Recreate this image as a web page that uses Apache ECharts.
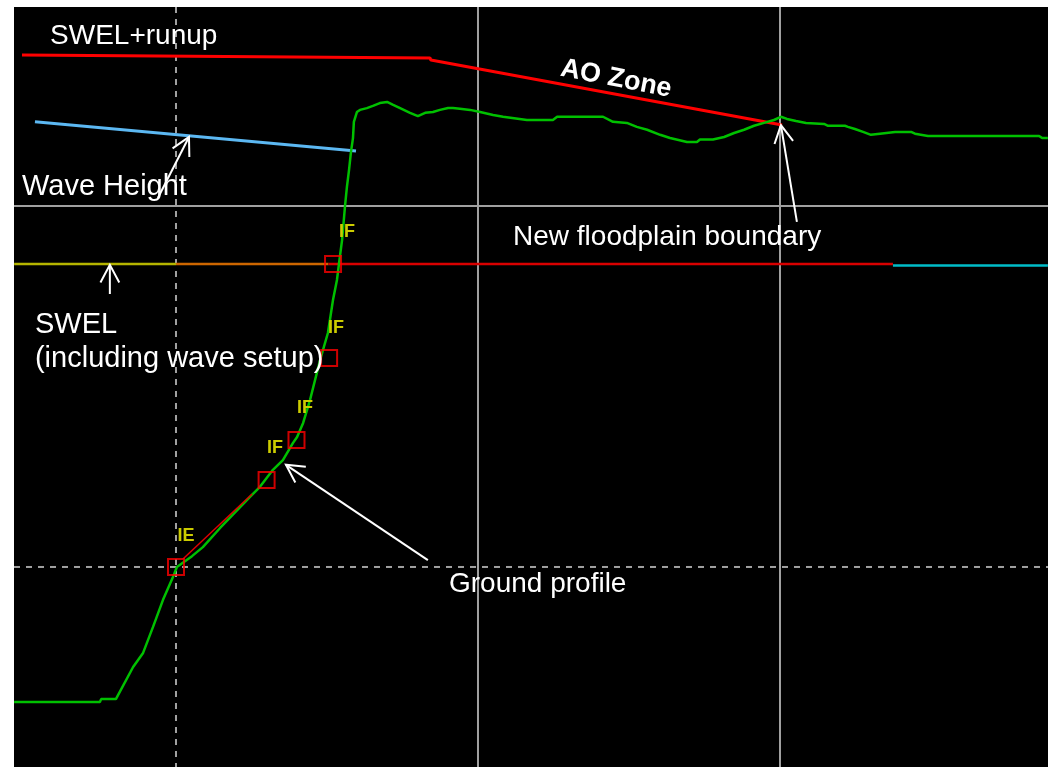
<!DOCTYPE html>
<html>
<head>
<meta charset="utf-8">
<script src="https://cdn.jsdelivr.net/npm/echarts@6/dist/echarts.min.js"></script>
<style>
html, body { margin: 0; padding: 0; background: #fff; }
#main { width: 1048px; height: 767px; }
</style>
</head>
<body>
<div id="main"></div>
<script>
// station (ft) / elevation (ft)
const groundProfile = [
    [46.4, -3.74], [74.8, -3.74], [75.2, -3.66], [80.1, -3.66], [85.8, -2.77], [89.1, -2.38],
    [92.4, -1.66], [95.7, -0.91], [99.0, -0.28], [100.3, 0], [105.3, 0.30], [108.9, 0.55],
    [114.6, 1.08], [124.5, 1.94], [127.8, 2.22], [132.1, 2.69], [135.4, 2.96], [138.7, 3.43],
    [140.1, 3.60], [142.1, 3.99], [144.4, 4.63], [147.7, 5.73], [150.3, 6.48], [152.0, 7.40],
    [153.3, 7.95], [154.0, 8.42], [155.0, 9.06], [156.0, 10.03], [156.6, 10.53], [157.3, 11.00],
    [157.9, 11.47], [158.6, 11.88], [158.9, 12.33], [159.9, 12.60], [160.9, 12.66], [163.2, 12.71],
    [165.2, 12.77], [167.5, 12.85], [169.9, 12.88], [171.9, 12.80], [174.2, 12.71], [177.5, 12.58],
    [180.1, 12.49], [182.5, 12.58], [185.1, 12.60], [187.4, 12.66], [190.1, 12.71], [191.7, 12.71],
    [194.0, 12.69], [197.4, 12.66], [200.7, 12.60], [205.0, 12.52], [208.3, 12.47], [216.2, 12.38],
    [224.8, 12.38], [226.2, 12.47], [241.4, 12.47], [244.7, 12.33], [249.3, 12.30], [252.6, 12.19],
    [256.0, 12.11], [260.3, 11.97], [263.6, 11.88], [269.2, 11.77], [272.5, 11.77], [273.5, 11.84],
    [277.8, 11.84], [281.5, 11.91], [284.8, 12.02], [288.1, 12.11], [291.4, 12.22], [294.7, 12.30],
    [298.0, 12.38], [300.3, 12.47], [302.3, 12.41], [305.3, 12.35], [308.6, 12.30], [314.6, 12.27],
    [315.9, 12.22], [321.5, 12.22], [322.5, 12.19], [324.8, 12.13], [327.5, 12.05], [330.1, 11.97],
    [333.1, 12.00], [338.1, 12.05], [343.4, 12.05], [344.7, 12.00], [349.0, 11.94], [385.8, 11.94],
    [386.8, 11.88], [388.7, 11.88]
];
const runupX = [49.0, 184.1, 184.4, 300.7];
const runupY = [14.18, 14.10, 14.04, 12.24];
const waveX = [53.3, 159.6];
const waveY = [12.33, 11.52];
const transectX = [102.3, 125.2];
const transectY = [0.22, 2.02];
const swelStart = [46.4, 100.0, 150.5, 337.4];
const swelEnd = [100.0, 150.5, 337.4, 388.7];
const swelLevel = [8.39, 8.39, 8.39, 8.35];
const pointX = [100.0, 130.0, 139.9, 150.7, 152.0];
const pointY = [0, 2.41, 3.52, 5.79, 8.39];
const tagText = ['IE', 'IF', 'IF', 'IF', 'IF'];
const tagX = [103.3, 132.8, 142.7, 153.0, 156.6];
const tagY = [0.86, 3.30, 4.40, 6.62, 9.28];
const gridX = [100, 200, 300];
const gridY = [0, 10];
const noteText = ['SWEL+runup', 'Wave Height', 'SWEL', '(including wave setup)', 'New floodplain boundary', 'Ground profile'];
const noteX = [58.3, 49.0, 53.3, 53.3, 211.6, 190.4];
const noteY = [14.71, 10.53, 6.71, 5.77, 9.12, -0.47];
const zoneText = 'AO Zone';
const zoneX = 245.7;
const zoneY = 13.52;
// arrows: tail x, tail y, tip x, tip y
const arrowTail = [[94.0, 10.22], [78.1, 7.56], [305.6, 9.56], [183.4, 0.19]];
const arrowTip = [[104.3, 11.91], [78.1, 8.37], [300.3, 12.24], [136.4, 2.83]];

const swelColors = ['#B4B400', '#CC6600', '#D80000', '#00BCC8'];
const noteSize = [28, 29, 29, 29, 28, 28];
const gridDashed = { x: [true, false, false], y: [true, false] };
const font = 'Liberation Sans';

function zip(xs, ys) {
    return xs.map((x, i) => [x, ys[i]]);
}

const chart = echarts.init(document.getElementById('main'));

const swelSeries = swelStart.map((s, i) => ({
    type: 'line',
    data: [[s, swelLevel[i]], [swelEnd[i], swelLevel[i]]],
    showSymbol: false,
    silent: true,
    z: 2,
    lineStyle: { color: swelColors[i], width: 2.5 }
}));

const option = {
    backgroundColor: '#fff',
    animation: false,
    grid: { left: 14, top: 7, right: 0, bottom: 0, show: true, backgroundColor: '#000', borderWidth: 0 },
    xAxis: { type: 'value', min: 46.36, max: 388.74, show: false },
    yAxis: { type: 'value', min: -5.54, max: 15.51, show: false },
    series: [
        {
            type: 'custom',
            silent: true,
            z: 1,
            data: gridX.map(v => [0, v]).concat(gridY.map(v => [1, v])),
            renderItem(params, api) {
                const cs = params.coordSys;
                const horiz = api.value(0) === 1;
                const v = api.value(1);
                const dashed = horiz ? gridDashed.y[gridY.indexOf(v)] : gridDashed.x[gridX.indexOf(v)];
                const p = api.coord(horiz ? [100, v] : [v, 0]);
                const shape = horiz
                    ? { x1: cs.x, y1: p[1], x2: cs.x + cs.width, y2: p[1] }
                    : { x1: p[0], y1: cs.y, x2: p[0], y2: cs.y + cs.height };
                return {
                    type: 'line',
                    shape: shape,
                    style: { stroke: '#A0A0A0', lineWidth: 2, lineDash: dashed ? [6, 6] : null }
                };
            }
        },
        ...swelSeries,
        {
            type: 'line',
            data: zip(runupX, runupY),
            showSymbol: false,
            silent: true,
            z: 3,
            lineStyle: { color: '#FF0000', width: 3 }
        },
        {
            type: 'line',
            data: zip(waveX, waveY),
            showSymbol: false,
            silent: true,
            z: 3,
            lineStyle: { color: '#5CB8F2', width: 3 }
        },
        {
            type: 'line',
            data: groundProfile,
            showSymbol: false,
            silent: true,
            z: 4,
            lineStyle: { color: '#00C000', width: 2.5 }
        },
        {
            type: 'line',
            data: zip(transectX, transectY),
            showSymbol: false,
            silent: true,
            z: 5,
            lineStyle: { color: '#E00000', width: 1.5 }
        },
        {
            type: 'scatter',
            data: zip(pointX, pointY),
            symbol: 'rect',
            symbolSize: [16, 16],
            silent: true,
            z: 6,
            itemStyle: { color: 'rgba(0,0,0,0)', borderColor: '#FF0000', borderWidth: 2 }
        },
        {
            type: 'custom',
            silent: true,
            z: 7,
            data: zip(tagX, tagY),
            renderItem(params, api) {
                const p = api.coord([api.value(0), api.value(1)]);
                return {
                    type: 'text',
                    x: p[0],
                    y: p[1],
                    style: {
                        text: tagText[params.dataIndex],
                        fill: '#CCCC00',
                        fontSize: 18,
                        fontWeight: 'bold',
                        fontFamily: font,
                        align: 'center',
                        verticalAlign: 'middle'
                    }
                };
            }
        },
        {
            type: 'custom',
            silent: true,
            z: 8,
            data: arrowTail.map((t, i) => [t[0], t[1], arrowTip[i][0], arrowTip[i][1]]),
            encode: { x: [0, 2], y: [1, 3] },
            renderItem(params, api) {
                const a = api.coord([api.value(0), api.value(1)]);
                const b = api.coord([api.value(2), api.value(3)]);
                const len = Math.hypot(a[0] - b[0], a[1] - b[1]);
                const dx = (a[0] - b[0]) / len, dy = (a[1] - b[1]) / len;
                const wing = (ang) => {
                    const c = Math.cos(ang), s = Math.sin(ang);
                    return [b[0] + 20 * (dx * c - dy * s), b[1] + 20 * (dx * s + dy * c)];
                };
                const w1 = wing(0.49), w2 = wing(-0.49);
                const st = { stroke: '#fff', lineWidth: 2, fill: null };
                return {
                    type: 'group',
                    children: [
                        { type: 'line', shape: { x1: a[0], y1: a[1], x2: b[0], y2: b[1] }, style: st },
                        { type: 'polyline', shape: { points: [w1, b, w2] }, style: st }
                    ]
                };
            }
        },
        {
            type: 'custom',
            silent: true,
            z: 9,
            data: zip(noteX, noteY),
            renderItem(params, api) {
                const p = api.coord([api.value(0), api.value(1)]);
                return {
                    type: 'text',
                    x: p[0],
                    y: p[1],
                    style: {
                        text: noteText[params.dataIndex],
                        fill: '#fff',
                        fontSize: noteSize[params.dataIndex],
                        fontFamily: font,
                        align: 'left',
                        verticalAlign: 'middle'
                    }
                };
            }
        },
        {
            type: 'custom',
            silent: true,
            z: 9,
            data: [[zoneX, zoneY]],
            renderItem(params, api) {
                const p = api.coord([api.value(0), api.value(1)]);
                return {
                    type: 'text',
                    x: p[0],
                    y: p[1],
                    rotation: -11 * Math.PI / 180,
                    style: {
                        text: zoneText,
                        fill: '#fff',
                        fontSize: 27,
                        fontWeight: 'bold',
                        fontFamily: font,
                        align: 'center',
                        verticalAlign: 'middle'
                    }
                };
            }
        }
    ]
};

chart.setOption(option);
</script>
</body>
</html>
